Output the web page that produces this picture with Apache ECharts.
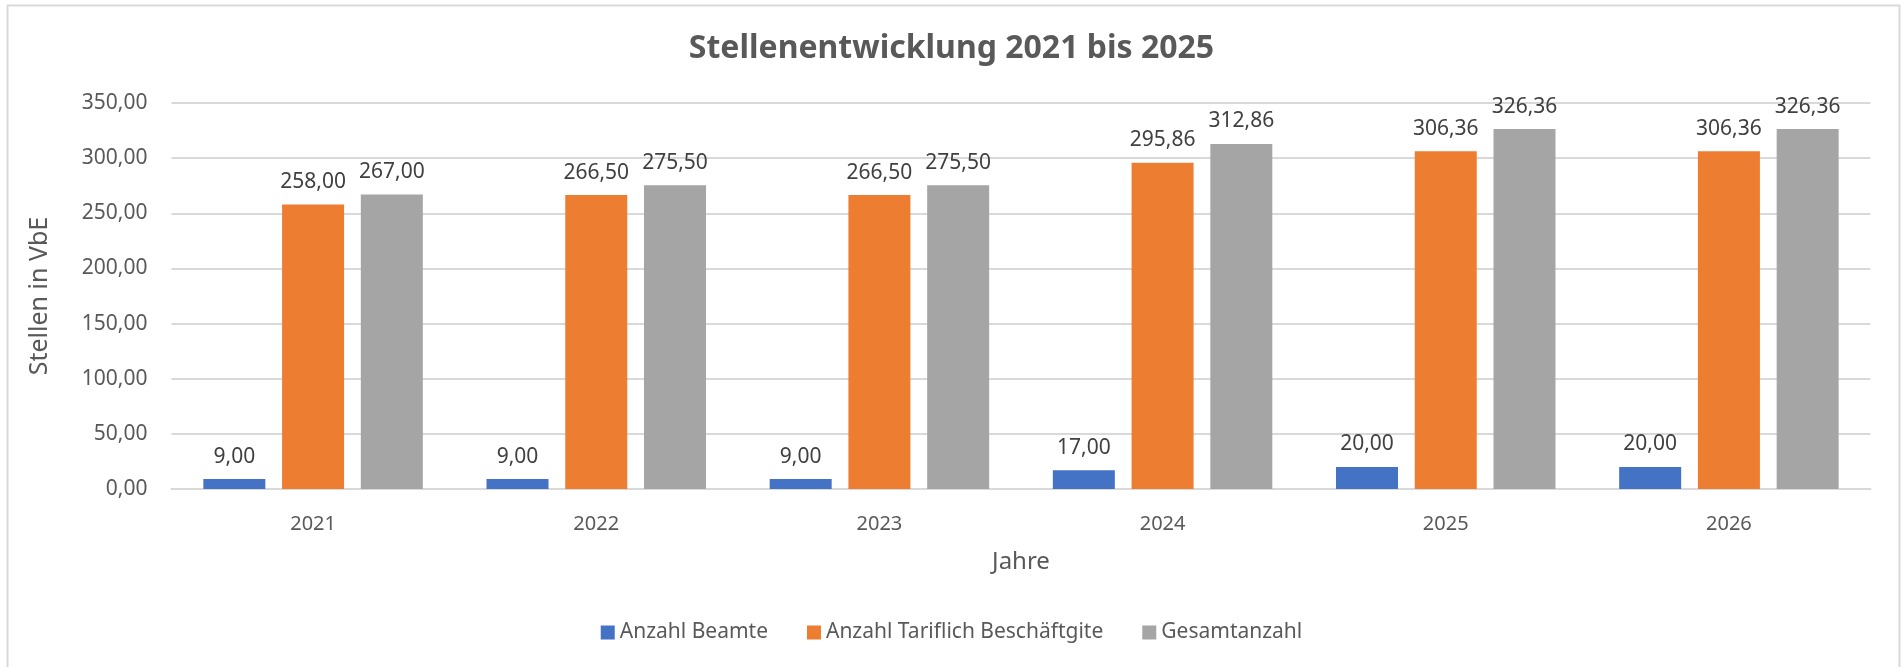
<!DOCTYPE html>
<html>
<head>
<meta charset="utf-8">
<style>
  html, body { margin: 0; padding: 0; background: #ffffff; }
  #chart { width: 1903px; height: 667px; }
</style>
<script src="https://cdn.jsdelivr.net/npm/echarts@6/dist/echarts.min.js"></script>
</head>
<body>
<div id="chart"></div>
<script>
// Jahre (Kategorien)
const years = ['2021', '2022', '2023', '2024', '2025', '2026'];
// Stellen in VbE je Gruppe
const beamte = [9, 9, 9, 17, 20, 20];
const tariflich = [258, 266.5, 266.5, 295.86, 306.36, 306.36];
const gesamt = [267, 275.5, 275.5, 312.86, 326.36, 326.36];
// Achsenbereich
const yMin = 0, yMax = 350, yStep = 50;

const FONT = '"Noto Sans", "Open Sans", sans-serif';
const fmt = v => v.toFixed(2).replace('.', ',');

const chart = echarts.init(document.getElementById('chart'), null, { renderer: 'canvas' });

function barSeries(name, data, color) {
  return {
    name: name,
    type: 'bar',
    data: data,
    barWidth: 62,
    barGap: '27%',
    itemStyle: { color: color },
    label: {
      show: true,
      position: 'top',
      distance: 12,
      formatter: p => fmt(p.value),
      color: '#404040',
      fontFamily: FONT,
      fontSize: 21
    }
  };
}

chart.setOption({
  animation: false,
  backgroundColor: '#ffffff',
  graphic: [{
    type: 'rect',
    shape: { x: 7.5, y: 5.5, width: 1892, height: 700 },
    style: { fill: 'none', stroke: '#d9d9d9', lineWidth: 2 },
    silent: true
  }],
  title: {
    text: 'Stellenentwicklung 2021 bis 2025',
    left: 'center',
    top: 28,
    textStyle: { color: '#595959', fontFamily: FONT, fontWeight: 'bold', fontSize: 32 }
  },
  legend: {
    top: 617,
    left: 'center',
    itemWidth: 14,
    itemHeight: 14,
    itemGap: 39,
    icon: 'rect',
    textStyle: { color: '#595959', fontFamily: FONT, fontSize: 21 },
    data: ['Anzahl Beamte', 'Anzahl Tariflich Beschäftgite', 'Gesamtanzahl']
  },
  grid: { left: 171.5, right: 32.5, top: 103, bottom: 178 },
  xAxis: {
    type: 'category',
    data: years,
    name: 'Jahre',
    nameLocation: 'middle',
    nameGap: 61,
    nameTextStyle: { color: '#595959', fontFamily: FONT, fontSize: 24 },
    axisLine: { lineStyle: { color: '#d9d9d9', width: 2 } },
    axisTick: { show: false },
    axisLabel: { color: '#595959', fontFamily: FONT, fontSize: 20, margin: 25 }
  },
  yAxis: {
    type: 'value',
    min: yMin,
    max: yMax,
    interval: yStep,
    name: 'Stellen in VbE',
    nameLocation: 'middle',
    nameGap: 119,
    nameTextStyle: { color: '#595959', fontFamily: FONT, fontSize: 25 },
    axisLine: { show: false },
    axisTick: { show: false },
    splitLine: { lineStyle: { color: '#d9d9d9', width: 2 } },
    axisLabel: { color: '#595959', fontFamily: FONT, fontSize: 21, margin: 24, formatter: v => fmt(v) }
  },
  series: [
    barSeries('Anzahl Beamte', beamte, '#4472C4'),
    barSeries('Anzahl Tariflich Beschäftgite', tariflich, '#ED7D31'),
    barSeries('Gesamtanzahl', gesamt, '#A5A5A5')
  ]
});
</script>
</body>
</html>
